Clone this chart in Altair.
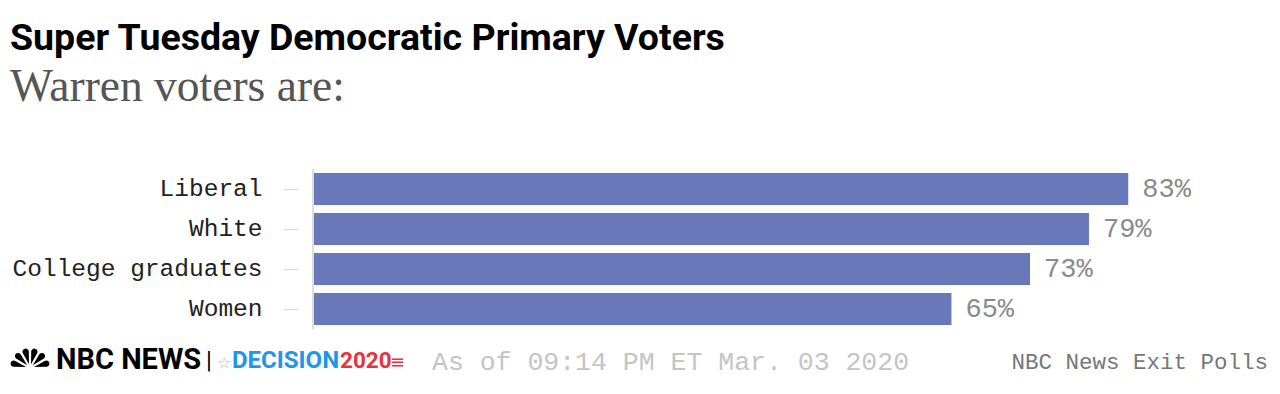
import altair as alt
import pandas as pd

categories = ["Liberal", "White", "College graduates", "Women"]
values = [83, 79, 73, 65]
pct_labels = ["83%", "79%", "73%", "65%"]

title_text = "Super Tuesday Democratic Primary Voters"
subtitle_text = "Warren voters are:"
asof_text = "As of 09:14 PM ET Mar. 03 2020"
source_text = "NBC News Exit Polls"

feather_start = [4.712, 5.236, 5.760, 0.0, 0.524, 1.047]
feather_end = [5.236, 5.760, 6.283, 0.524, 1.047, 1.571]

W, H = 884, 160
df = pd.DataFrame({"cat": categories, "val": values, "lab": pct_labels})

x_enc = alt.X("val:Q", scale=alt.Scale(domain=[0, 90]), axis=None)
y_enc = alt.Y("cat:N", sort=categories, title=None,
              scale=alt.Scale(paddingInner=0.2, paddingOuter=0.1),
              axis=alt.Axis(domain=False, grid=False, offset=15, tickSize=15,
                            tickColor="#dddddd", tickWidth=1.5, labelPadding=21,
                            labelFont="Liberation Mono", labelFontSize=24.5,
                            labelColor="#222222", labelLimit=400))

bars = alt.Chart(df).mark_bar(color="#6878b8").encode(x=x_enc, y=y_enc)
labels = alt.Chart(df).mark_text(align="left", baseline="middle", dx=14,
                                 font="Liberation Mono", fontSize=27,
                                 color="#8a8a8a").encode(x=x_enc, y=y_enc, text="lab:N")

one = pd.DataFrame({"a": [0]})
domain_rule = alt.Chart(one).mark_rule(color="#dddddd", strokeWidth=2).encode(
    x=alt.value(0), y=alt.value(0), y2=alt.value(H))

def txt(text, x, y, **kw):
    return alt.Chart(pd.DataFrame({"t": [text]})).mark_text(**kw).encode(
        x=alt.value(x), y=alt.value(y), text="t:N")

title = txt(title_text, -303, -119, align="left", baseline="alphabetic",
            font="Roboto", fontWeight="bold", fontSize=37.5, color="#000000")
subtitle = txt(subtitle_text, -303, -68, align="left", baseline="alphabetic",
               font="Liberation Serif", fontSize=45.5, color="#555555")
nbc = txt("NBC NEWS", -257, 200, align="left", baseline="alphabetic",
          font="Roboto", fontWeight="bold", fontSize=29, color="#000000")
bar_sep = txt("|", -107, 199, align="left", baseline="alphabetic",
              font="Roboto", fontSize=24, color="#000000")
star = txt("☆", -96, 199, align="left", baseline="alphabetic",
           font="DejaVu Sans", fontSize=16, color="#bbbbbb")
decision = txt("DECISION", -81, 199, align="left", baseline="alphabetic",
               font="Roboto", fontWeight="bold", fontSize=24, color="#2196e8")
y2020 = txt("2020", 27, 199, align="left", baseline="alphabetic",
            font="Roboto", fontWeight="bold", fontSize=22.5, color="#e8333c")
stripes = txt("≡", 77, 199, align="left", baseline="alphabetic",
              font="DejaVu Sans", fontSize=18, color="#e8333c")
asof = txt(asof_text, 119, 201, align="left", baseline="alphabetic",
           font="Liberation Mono", fontSize=26.5, color="#c4c4c4")
source = txt(source_text, 955, 200, align="right", baseline="alphabetic",
             font="Liberation Mono", fontSize=22.5, color="#777777")

feathers = alt.Chart(pd.DataFrame({"t0": feather_start, "t1": feather_end})).mark_arc(
    radius=20, radius2=4, padAngle=0.12, cornerRadius=4, color="#000000").encode(
    x=alt.value(-283), y=alt.value(199),
    theta=alt.Theta("t0:Q", scale=None), theta2="t1:Q")

chart = alt.layer(bars, labels, domain_rule, title, subtitle, feathers, nbc, bar_sep,
                  star, decision, y2020, stripes, asof, source).properties(
    width=W, height=H,
    autosize=alt.AutoSizeParams(type="none"),
    padding={"left": 305, "top": 161, "right": 75, "bottom": 57},
    background="white",
).configure_view(stroke=None)

chart.save("out.html", embed_options={"renderer": "svg", "actions": False})
